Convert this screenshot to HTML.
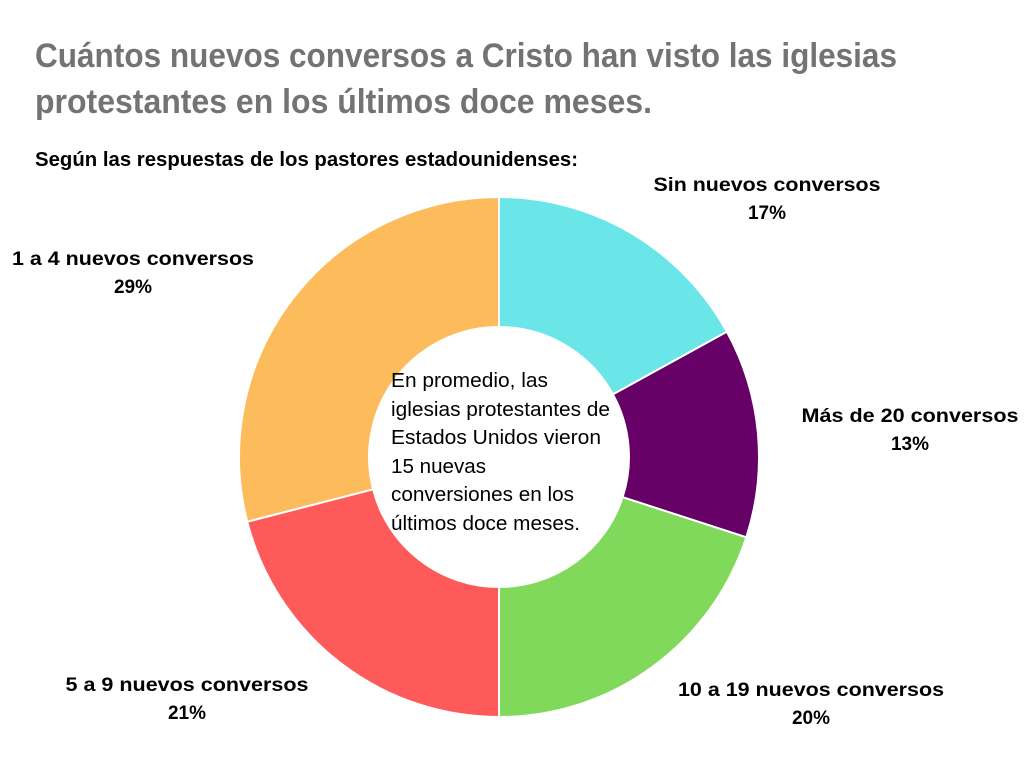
<!DOCTYPE html>
<html><head><meta charset="utf-8"><style>
html,body{margin:0;padding:0;background:#fff;}
svg{display:block;}
text{font-family:"Liberation Sans",sans-serif;}
</style></head><body>
<svg width="1024" height="768" viewBox="0 0 1024 768">
<rect width="1024" height="768" fill="#fff"/>
<text x="35" y="67" font-size="34" font-weight="bold" fill="#737373" textLength="862" lengthAdjust="spacingAndGlyphs">Cuántos nuevos conversos a Cristo han visto las iglesias</text>
<text x="35" y="113" font-size="34" font-weight="bold" fill="#737373" textLength="617" lengthAdjust="spacingAndGlyphs">protestantes en los últimos doce meses.</text>
<text x="35" y="166" font-size="20" font-weight="bold" fill="#000" textLength="543" lengthAdjust="spacingAndGlyphs">Según las respuestas de los pastores estadounidenses:</text>
<g stroke="#fff" stroke-width="2" stroke-linejoin="round">
<path d="M499,197 A260,260 0 0 1 726.8,331.7 L612.9,394.4 A130,130 0 0 0 499,327 Z" fill="#6AE5E8"/>
<path d="M726.8,331.7 A260,260 0 0 1 746.3,537.3 L622.6,497.2 A130,130 0 0 0 612.9,394.4 Z" fill="#660066"/>
<path d="M746.3,537.3 A260,260 0 0 1 499,717 L499,587 A130,130 0 0 0 622.6,497.2 Z" fill="#80D95A"/>
<path d="M499,717 A260,260 0 0 1 247.2,521.7 L373.1,489.3 A130,130 0 0 0 499,587 Z" fill="#FF5A5A"/>
<path d="M247.2,521.7 A260,260 0 0 1 499,197 L499,327 A130,130 0 0 0 373.1,489.3 Z" fill="#FDBC5C"/>
</g>
<g font-size="20" fill="#000">
<text x="391" y="387" textLength="157" lengthAdjust="spacingAndGlyphs">En promedio, las</text>
<text x="391" y="416" textLength="219" lengthAdjust="spacingAndGlyphs">iglesias protestantes de</text>
<text x="391" y="444" textLength="210" lengthAdjust="spacingAndGlyphs">Estados Unidos vieron</text>
<text x="391" y="473" textLength="95" lengthAdjust="spacingAndGlyphs">15 nuevas</text>
<text x="391" y="501" textLength="183" lengthAdjust="spacingAndGlyphs">conversiones en los</text>
<text x="391" y="530" textLength="189" lengthAdjust="spacingAndGlyphs">últimos doce meses.</text>
</g>
<g font-size="19" font-weight="bold" fill="#000" text-anchor="middle">
<text x="767" y="191" textLength="227" lengthAdjust="spacingAndGlyphs">Sin nuevos conversos</text>
<text x="767" y="219">17%</text>
<text x="133" y="265" textLength="242" lengthAdjust="spacingAndGlyphs">1 a 4 nuevos conversos</text>
<text x="133" y="293">29%</text>
<text x="910" y="422" textLength="217" lengthAdjust="spacingAndGlyphs">Más de 20 conversos</text>
<text x="910" y="450">13%</text>
<text x="811" y="696" textLength="266" lengthAdjust="spacingAndGlyphs">10 a 19 nuevos conversos</text>
<text x="811" y="724">20%</text>
<text x="187" y="691" textLength="243" lengthAdjust="spacingAndGlyphs">5 a 9 nuevos conversos</text>
<text x="187" y="719">21%</text>
</g>
</svg>
</body></html>
